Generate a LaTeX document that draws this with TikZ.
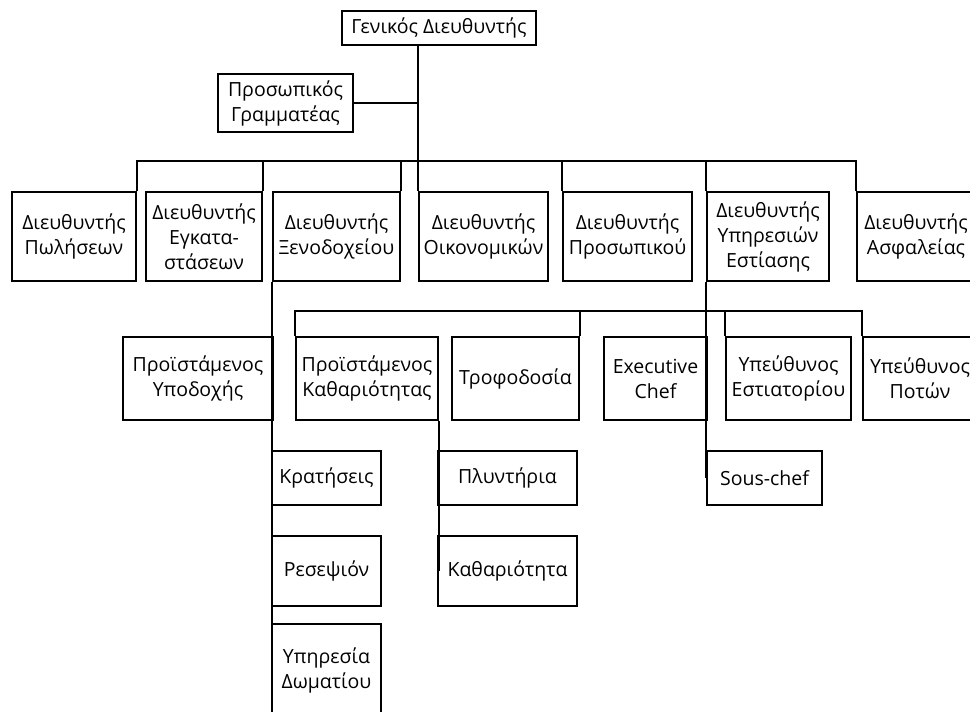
\documentclass[tikz,border=0pt]{standalone}
\usepackage{fontspec}
\setmainfont{Open Sans}
\begin{document}
\begin{tikzpicture}[x=1pt,y=-1pt,
  box/.style={draw, line width=1.8pt, inner sep=0pt, align=center,
    font=\fontsize{19.5}{25}\selectfont},
  conn/.style={line width=1.8pt}]
\useasboundingbox (0,0) rectangle (970,712);
\clip (0,0) rectangle (970,712);
% top
\node[box, minimum width=194pt, minimum height=34pt] (gen) at (439,28) {Γενικός Διευθυντής};
\node[box, minimum width=135pt, minimum height=58pt] (sec) at (285.5,103) {Προσωπικός\\Γραμματέας};
% level 1
\node[box, minimum width=124pt, minimum height=89pt] (pol) at (74,236.5) {Διευθυντής\\Πωλήσεων};
\node[box, minimum width=116pt, minimum height=89pt] (egk) at (204,236.5) {Διευθυντής\\Εγκατα-\\στάσεων};
\node[box, minimum width=127pt, minimum height=89pt] (xen) at (336.5,236.5) {Διευθυντής\\Ξενοδοχείου};
\node[box, minimum width=129pt, minimum height=89pt] (oik) at (483.5,236.5) {Διευθυντής\\Οικονομικών};
\node[box, minimum width=129pt, minimum height=89pt] (pro) at (627.5,236.5) {Διευθυντής\\Προσωπικού};
\node[box, minimum width=122pt, minimum height=89pt] (yps) at (768,236.5) {Διευθυντής\\Υπηρεσιών\\Εστίασης};
\node[box, minimum width=118pt, minimum height=89pt] (asf) at (916,236.5) {Διευθυντής\\Ασφαλείας};
% level 2
\node[box, minimum width=150pt, minimum height=83pt] (ypo) at (198,378.5) {Προϊστάμενος\\Υποδοχής};
\node[box, minimum width=142pt, minimum height=83pt] (kth) at (367,378.5) {Προϊστάμενος\\Καθαριότητας};
\node[box, minimum width=127pt, minimum height=83pt] (tro) at (515.5,378.5) {Τροφοδοσία};
\node[box, minimum width=103pt, minimum height=83pt] (exc) at (655.5,378.5) {Executive\\Chef};
\node[box, minimum width=125pt, minimum height=83pt] (est) at (788.5,378.5) {Υπεύθυνος\\Εστιατορίου};
\node[box, minimum width=114pt, minimum height=83pt] (pot) at (920,378.5) {Υπεύθυνος\\Ποτών};
% level 3
\node[box, minimum width=109pt, minimum height=54pt] (kra) at (326.5,478) {Κρατήσεις};
\node[box, minimum width=109pt, minimum height=70pt] (res) at (326.5,571) {Ρεσεψιόν};
\node[box, minimum width=109pt, minimum height=92pt] (ypd) at (326.5,670) {Υπηρεσία\\Δωματίου};
\node[box, minimum width=139pt, minimum height=54pt] (ply) at (507.5,478) {Πλυντήρια};
\node[box, minimum width=139pt, minimum height=70pt] (kat) at (507.5,571) {Καθαριότητα};
\node[box, minimum width=115pt, minimum height=54pt] (sou) at (764.5,478) {Sous-chef};
% bus levels
\coordinate (b1) at (0,161);
\coordinate (b2) at (0,311);
% connectors
\draw[conn] (gen.south -| oik.north west) -- (oik.north west);
\draw[conn] (sec.east) -- (sec.east -| oik.north west);
\draw[conn] (pol.north east) -- (pol.north east |- b1) -- (asf.north west |- b1) -- (asf.north west);
\draw[conn] (egk.north east) -- (egk.north east |- b1);
\draw[conn] (xen.north east) -- (xen.north east |- b1);
\draw[conn] (pro.north west) -- (pro.north west |- b1);
\draw[conn] (yps.north west) -- (yps.north west |- b1);
\draw[conn] (xen.south west) -- (xen.south west |- ypd.south);
\draw[conn] (yps.south west) -- (sou.west);
\draw[conn] (kth.north west) -- (kth.north west |- b2) -- (pot.north west |- b2) -- (pot.north west);
\draw[conn] (tro.north east) -- (tro.north east |- b2);
\draw[conn] (est.north west) -- (est.north west |- b2);
\draw[conn] (kth.south east) -- (kth.south east |- kat.west);
\end{tikzpicture}
\end{document}
